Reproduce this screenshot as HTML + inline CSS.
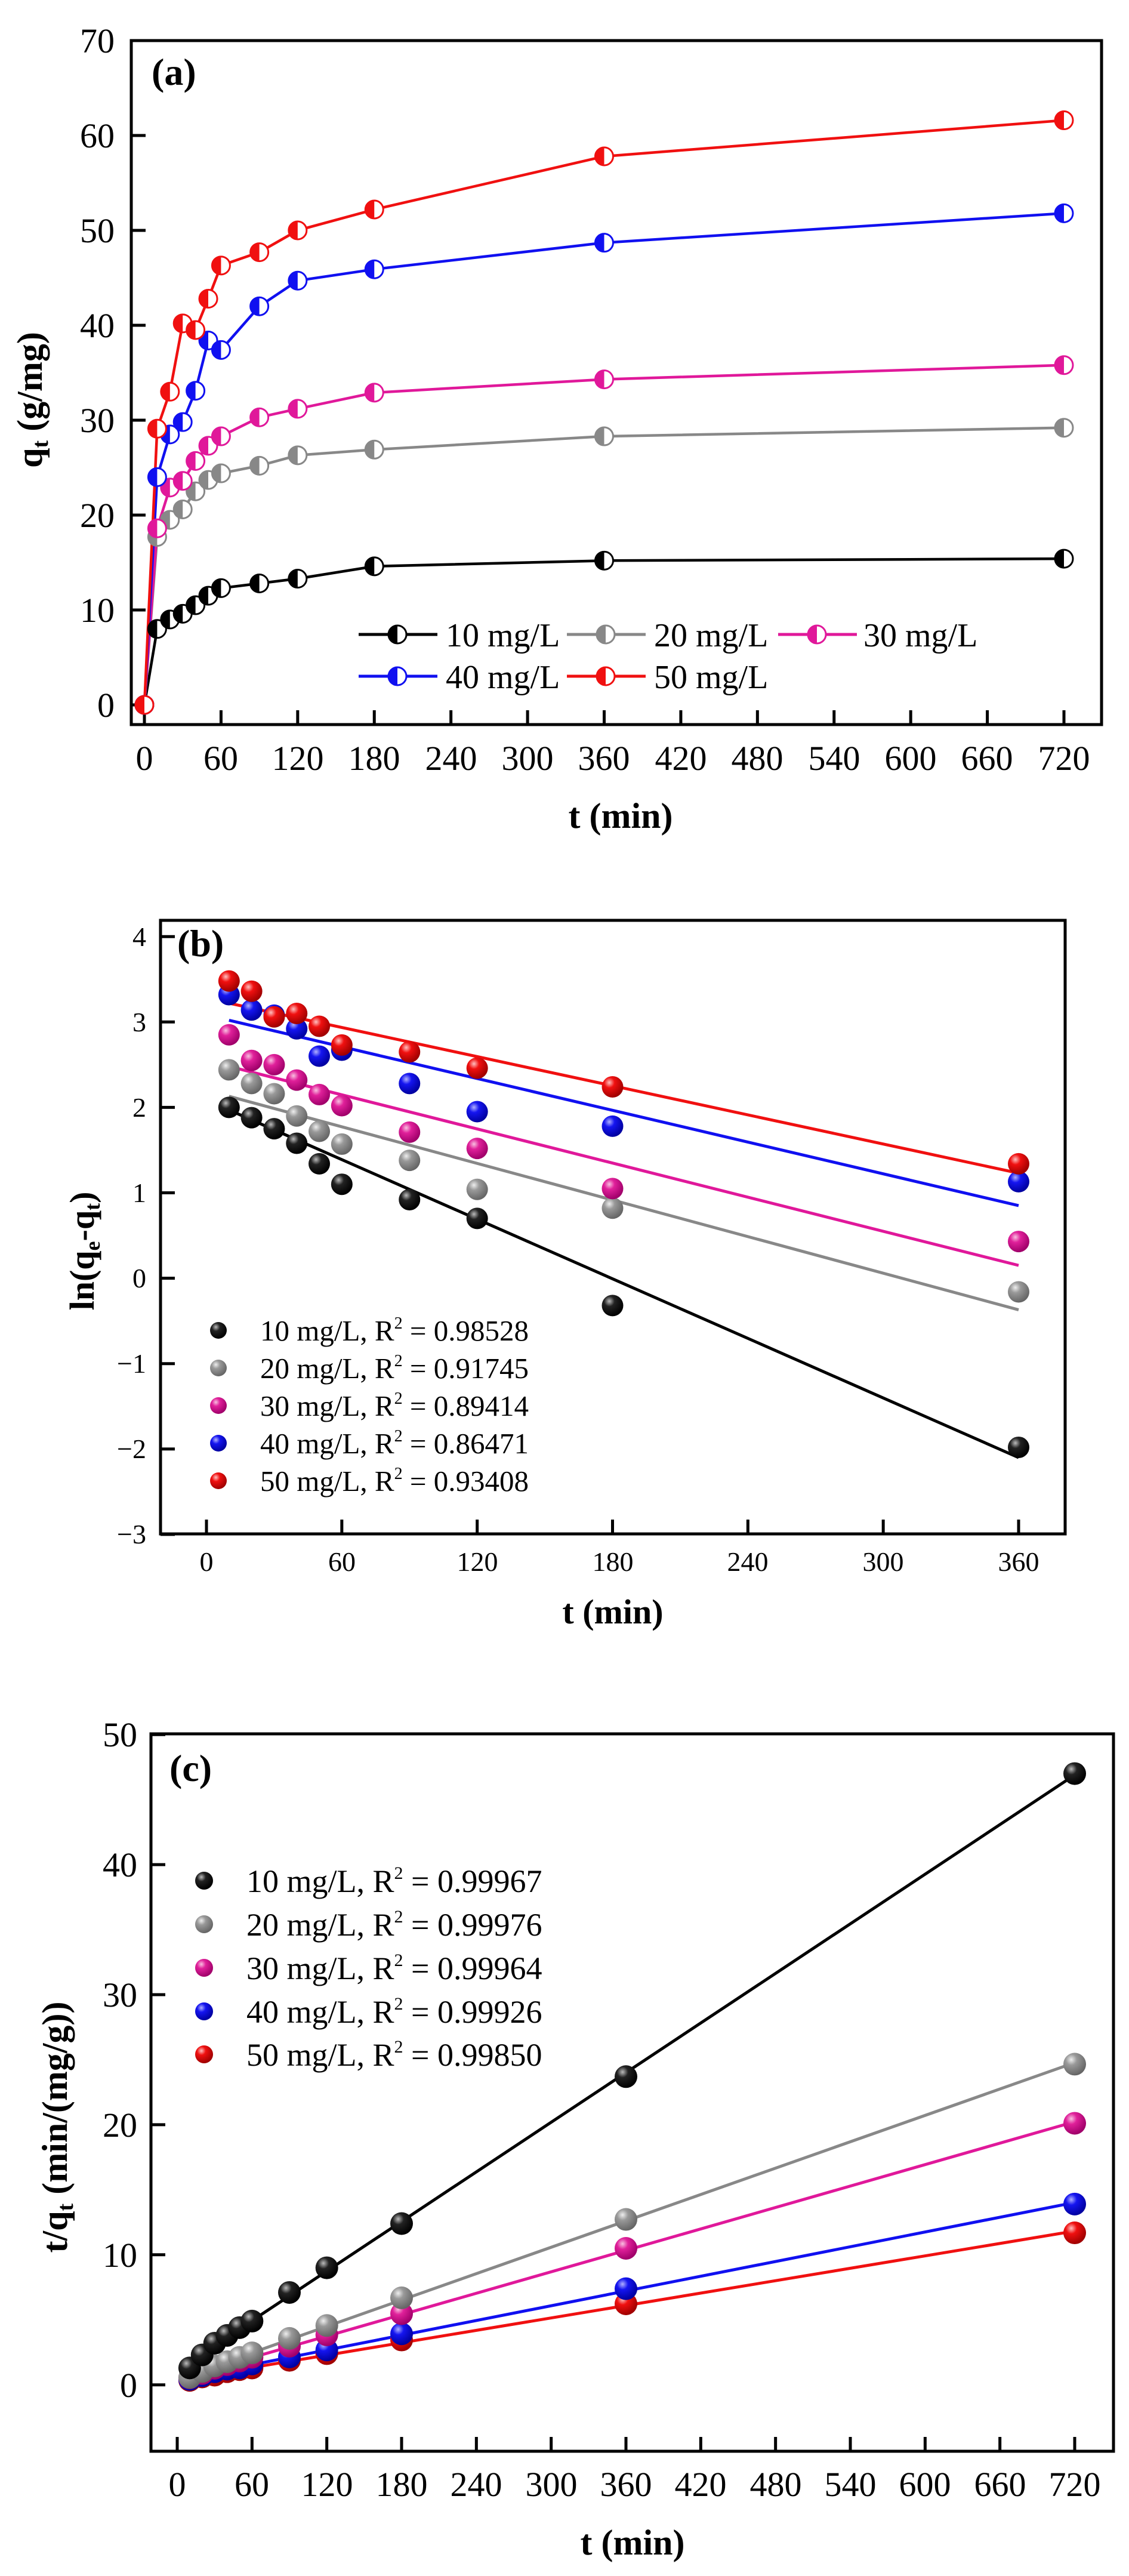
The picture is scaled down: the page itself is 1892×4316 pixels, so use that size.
<!DOCTYPE html>
<html><head><meta charset="utf-8"><style>
html,body{margin:0;padding:0;background:#fff}
svg{display:block}
text{font-family:"Liberation Serif",serif;fill:#000}
.b{font-weight:bold}
</style></head><body>
<svg id="s" width="1892" height="4316" viewBox="0 0 1892 4316" xmlns="http://www.w3.org/2000/svg">
<defs>
<radialGradient id="gk" cx="35%" cy="30%" r="70%"><stop offset="0" stop-color="#bbb"/><stop offset="0.35" stop-color="#222"/><stop offset="1" stop-color="#000"/></radialGradient>
<radialGradient id="gg" cx="35%" cy="30%" r="70%"><stop offset="0" stop-color="#eee"/><stop offset="0.35" stop-color="#999"/><stop offset="1" stop-color="#666"/></radialGradient>
<radialGradient id="gm" cx="35%" cy="30%" r="70%"><stop offset="0" stop-color="#f8c0e0"/><stop offset="0.35" stop-color="#e0209a"/><stop offset="1" stop-color="#a0006a"/></radialGradient>
<radialGradient id="gb" cx="35%" cy="30%" r="70%"><stop offset="0" stop-color="#b0b0ff"/><stop offset="0.35" stop-color="#1515f0"/><stop offset="1" stop-color="#0000a0"/></radialGradient>
<radialGradient id="gr" cx="35%" cy="30%" r="70%"><stop offset="0" stop-color="#ffc0c0"/><stop offset="0.35" stop-color="#f01010"/><stop offset="1" stop-color="#a00000"/></radialGradient>
</defs>
<g id="A"></g><g id="B"></g><g id="C"></g>

<!-- Panel a frame -->
<rect x="220" y="68" width="1626" height="1146" fill="none" stroke="#000" stroke-width="5"/>
<text x="254" y="142" class="b" font-size="64">(a)</text>
<g font-size="58" text-anchor="end">
<text x="192" y="1201">0</text><text x="192" y="1042">10</text><text x="192" y="883">20</text><text x="192" y="724">30</text><text x="192" y="565">40</text><text x="192" y="406">50</text><text x="192" y="247">60</text><text x="192" y="88">70</text>
</g>
<g font-size="58" text-anchor="middle">
<text x="242" y="1290">0</text><text x="370" y="1290">60</text><text x="499" y="1290">120</text><text x="627" y="1290">180</text><text x="756" y="1290">240</text><text x="884" y="1290">300</text><text x="1012" y="1290">360</text><text x="1141" y="1290">420</text><text x="1269" y="1290">480</text><text x="1398" y="1290">540</text><text x="1526" y="1290">600</text><text x="1654" y="1290">660</text><text x="1783" y="1290">720</text>
</g>
<text x="1040" y="1387" class="b" font-size="60" text-anchor="middle">t (min)</text>
<text transform="translate(70,670) rotate(-90)" class="b" font-size="60" text-anchor="middle">q<tspan font-size="38" dy="10">t</tspan><tspan dy="-10"> (g/mg)</tspan></text>
<g font-size="56">
<text x="747" y="1083">10 mg/L</text><text x="1096" y="1083">20 mg/L</text><text x="1447" y="1083">30 mg/L</text>
<text x="747" y="1153">40 mg/L</text><text x="1096" y="1153">50 mg/L</text>
</g>

<!-- Panel b frame -->
<rect x="269" y="1542" width="1516" height="1028" fill="none" stroke="#000" stroke-width="5"/>
<text x="297" y="1602" class="b" font-size="64">(b)</text>
<g font-size="46" text-anchor="end">
<text x="245" y="2586">−3</text><text x="245" y="2443">−2</text><text x="245" y="2300">−1</text><text x="245" y="2157">0</text><text x="245" y="2014">1</text><text x="245" y="1871">2</text><text x="245" y="1728">3</text><text x="245" y="1585">4</text>
</g>
<g font-size="46" text-anchor="middle">
<text x="346" y="2632">0</text><text x="573" y="2632">60</text><text x="800" y="2632">120</text><text x="1027" y="2632">180</text><text x="1253" y="2632">240</text><text x="1480" y="2632">300</text><text x="1707" y="2632">360</text>
</g>
<text x="1027" y="2720" class="b" font-size="58" text-anchor="middle">t (min)</text>
<text transform="translate(157,2096) rotate(-90)" class="b" font-size="58" text-anchor="middle">ln(q<tspan font-size="36" dy="10">e</tspan><tspan dy="-10">-q</tspan><tspan font-size="36" dy="10">t</tspan><tspan dy="-10">)</tspan></text>
<g font-size="49">
<text x="436" y="2246">10 mg/L, R<tspan font-size="28" dy="-20">2</tspan><tspan dy="20"> = 0.98528</tspan></text>
<text x="436" y="2309">20 mg/L, R<tspan font-size="28" dy="-20">2</tspan><tspan dy="20"> = 0.91745</tspan></text>
<text x="436" y="2372">30 mg/L, R<tspan font-size="28" dy="-20">2</tspan><tspan dy="20"> = 0.89414</tspan></text>
<text x="436" y="2435">40 mg/L, R<tspan font-size="28" dy="-20">2</tspan><tspan dy="20"> = 0.86471</tspan></text>
<text x="436" y="2498">50 mg/L, R<tspan font-size="28" dy="-20">2</tspan><tspan dy="20"> = 0.93408</tspan></text>
</g>

<!-- Panel c frame -->
<rect x="253" y="2905" width="1613" height="1202" fill="none" stroke="#000" stroke-width="5"/>
<text x="284" y="2984" class="b" font-size="64">(c)</text>
<g font-size="58" text-anchor="end">
<text x="230" y="4016">0</text><text x="230" y="3798">10</text><text x="230" y="3580">20</text><text x="230" y="3362">30</text><text x="230" y="3144">40</text><text x="230" y="2926">50</text>
</g>
<g font-size="58" text-anchor="middle">
<text x="297" y="4182">0</text><text x="422" y="4182">60</text><text x="548" y="4182">120</text><text x="673" y="4182">180</text><text x="798" y="4182">240</text><text x="924" y="4182">300</text><text x="1049" y="4182">360</text><text x="1174" y="4182">420</text><text x="1300" y="4182">480</text><text x="1425" y="4182">540</text><text x="1550" y="4182">600</text><text x="1676" y="4182">660</text><text x="1801" y="4182">720</text>
</g>
<text x="1060" y="4280" class="b" font-size="60" text-anchor="middle">t (min)</text>
<text transform="translate(112,3564) rotate(-90)" class="b" font-size="60" text-anchor="middle">t/q<tspan font-size="38" dy="10">t</tspan><tspan dy="-10"> (min/(mg/g))</tspan></text>
<g font-size="54">
<text x="413" y="3170">10 mg/L, R<tspan font-size="30" dy="-22">2</tspan><tspan dy="22"> = 0.99967</tspan></text>
<text x="413" y="3243">20 mg/L, R<tspan font-size="30" dy="-22">2</tspan><tspan dy="22"> = 0.99976</tspan></text>
<text x="413" y="3316">30 mg/L, R<tspan font-size="30" dy="-22">2</tspan><tspan dy="22"> = 0.99964</tspan></text>
<text x="413" y="3389">40 mg/L, R<tspan font-size="30" dy="-22">2</tspan><tspan dy="22"> = 0.99926</tspan></text>
<text x="413" y="3461">50 mg/L, R<tspan font-size="30" dy="-22">2</tspan><tspan dy="22"> = 0.99850</tspan></text>
</g>
</svg>
<script>
var NS="http://www.w3.org/2000/svg";
function el(p,t,a){var e=document.createElementNS(NS,t);for(var k in a)e.setAttribute(k,a[k]);p.appendChild(e);return e;}
var cols=["#000","#888","#e0189a","#1010f0","#f01010"];
var grads=["url(#gk)","url(#gg)","url(#gm)","url(#gb)","url(#gr)"];
function half(g,x,y,r,c){
 el(g,"circle",{cx:x,cy:y,r:r,fill:"#fff",stroke:c,"stroke-width":3});
 el(g,"path",{d:"M"+x+","+(y-r)+" A"+r+","+r+" 0 0,0 "+x+","+(y+r)+" Z",fill:c});
}
function ball(g,x,y,r,i){el(g,"circle",{cx:x,cy:y,r:r,fill:grads[i]});}
var A=document.getElementById("A");
var ta=[0,10,20,30,40,50,60,90,120,180,360,720];
var qa=[[0,8,9,9.6,10.5,11.5,12.3,12.8,13.3,14.6,15.2,15.4],
[0,17.7,19.5,20.6,22.5,23.7,24.4,25.2,26.3,26.9,28.3,29.2],
[0,18.6,22.9,23.6,25.7,27.3,28.3,30.3,31.2,32.9,34.3,35.8],
[0,24,28.5,29.8,33.1,38.4,37.4,42,44.7,45.9,48.7,51.8],
[0,29.1,33,40.2,39.5,42.8,46.3,47.7,50,52.2,57.8,61.6]];
function ax(t){return 242+t*1541/720;} function ay(v){return 1181-v*15.9;}
for(var t=0;t<=720;t+=60)el(A,"line",{x1:ax(t),x2:ax(t),y1:1214,y2:1190,stroke:"#000","stroke-width":5});
for(var v=0;v<=70;v+=10)el(A,"line",{x1:220,x2:244,y1:ay(v),y2:ay(v),stroke:"#000","stroke-width":5});
for(var i=0;i<5;i++){
 el(A,"polyline",{points:ta.map(function(t,j){return ax(t)+","+ay(qa[i][j]);}).join(" "),fill:"none",stroke:cols[i],"stroke-width":4.5});
}
for(var i=0;i<5;i++)for(var j=0;j<ta.length;j++)half(A,ax(ta[j]),ay(qa[i][j]),15,cols[i]);
var lg=[[601,1063],[950,1063],[1304,1063],[601,1133],[950,1133]];
for(var i=0;i<5;i++){var x0=lg[i][0],y0=lg[i][1];
 el(A,"line",{x1:x0,x2:x0+132,y1:y0,y2:y0,stroke:cols[i],"stroke-width":5});
 half(A,x0+65,y0,15,cols[i]);}
var B=document.getElementById("B");
var tb=[10,20,30,40,50,60,90,120,180,360];
var qb=[[2.0,1.88,1.75,1.58,1.34,1.1,0.92,0.7,-0.32,-1.98],
[2.44,2.28,2.16,1.9,1.72,1.57,1.38,1.04,0.82,-0.16],
[2.85,2.55,2.5,2.32,2.15,2.02,1.71,1.52,1.05,0.43],
[3.32,3.14,3.08,2.92,2.6,2.67,2.28,1.95,1.78,1.13],
[3.48,3.36,3.06,3.1,2.95,2.73,2.65,2.46,2.24,1.34]];
var fb=[[1.97,-2.1],[2.13,-0.37],[2.48,0.15],[3.02,0.85],[3.22,1.23]];
function bx(t){return 346+t*1361/360;} function by(v){return 2141.6-v*143.1;}
for(var t=0;t<=360;t+=60)el(B,"line",{x1:bx(t),x2:bx(t),y1:2570,y2:2546,stroke:"#000","stroke-width":5});
for(var v=-3;v<=4;v++)el(B,"line",{x1:269,x2:293,y1:by(v),y2:by(v),stroke:"#000","stroke-width":5});
for(var i=0;i<5;i++)el(B,"line",{x1:bx(10),y1:by(fb[i][0]),x2:bx(360),y2:by(fb[i][1]),stroke:cols[i],"stroke-width":5});
for(var i=0;i<5;i++)for(var j=0;j<tb.length;j++)ball(B,bx(tb[j]),by(qb[i][j]),18,i);
var ly=[2229,2292,2355,2418,2481];
for(var i=0;i<5;i++)ball(B,366,ly[i],14,i);
var C=document.getElementById("C");
function cx(t){return 297+t*1504/720;} function cy(v){return 3995.7-v*21.79;}
for(var t=0;t<=720;t+=60)el(C,"line",{x1:cx(t),x2:cx(t),y1:4107,y2:4083,stroke:"#000","stroke-width":5});
for(var v=0;v<=50;v+=10)el(C,"line",{x1:253,x2:277,y1:cy(v),y2:cy(v),stroke:"#000","stroke-width":5});
var tc=ta.slice(1);
var pts=[];
for(var i=0;i<5;i++){var arr=[];for(var j=0;j<tc.length;j++){var q=qa[i][j+1];var y=tc[j]/q;
 if(i==0){y=[1.3,2.3,3.2,3.8,4.4,4.9,7.1,9,12.4,23.7,47][j];}arr.push(y);}pts.push(arr);}
for(var i=0;i<5;i++){
 var n=tc.length,sx=0,sy=0,sxx=0,sxy=0;
 for(var j=0;j<n;j++){sx+=tc[j];sy+=pts[i][j];sxx+=tc[j]*tc[j];sxy+=tc[j]*pts[i][j];}
 var m=(n*sxy-sx*sy)/(n*sxx-sx*sx),b=(sy-m*sx)/n;
 el(C,"line",{x1:cx(10),y1:cy(b+m*10),x2:cx(720),y2:cy(b+m*720),stroke:cols[i],"stroke-width":5});
}
for(var i=4;i>=0;i--)for(var j=0;j<tc.length;j++)ball(C,cx(tc[j]),cy(pts[i][j]),19,i);
var lc=[3151,3224,3297,3370,3442];
for(var i=0;i<5;i++)ball(C,342,lc[i],15,i);
</script>
</body></html>
